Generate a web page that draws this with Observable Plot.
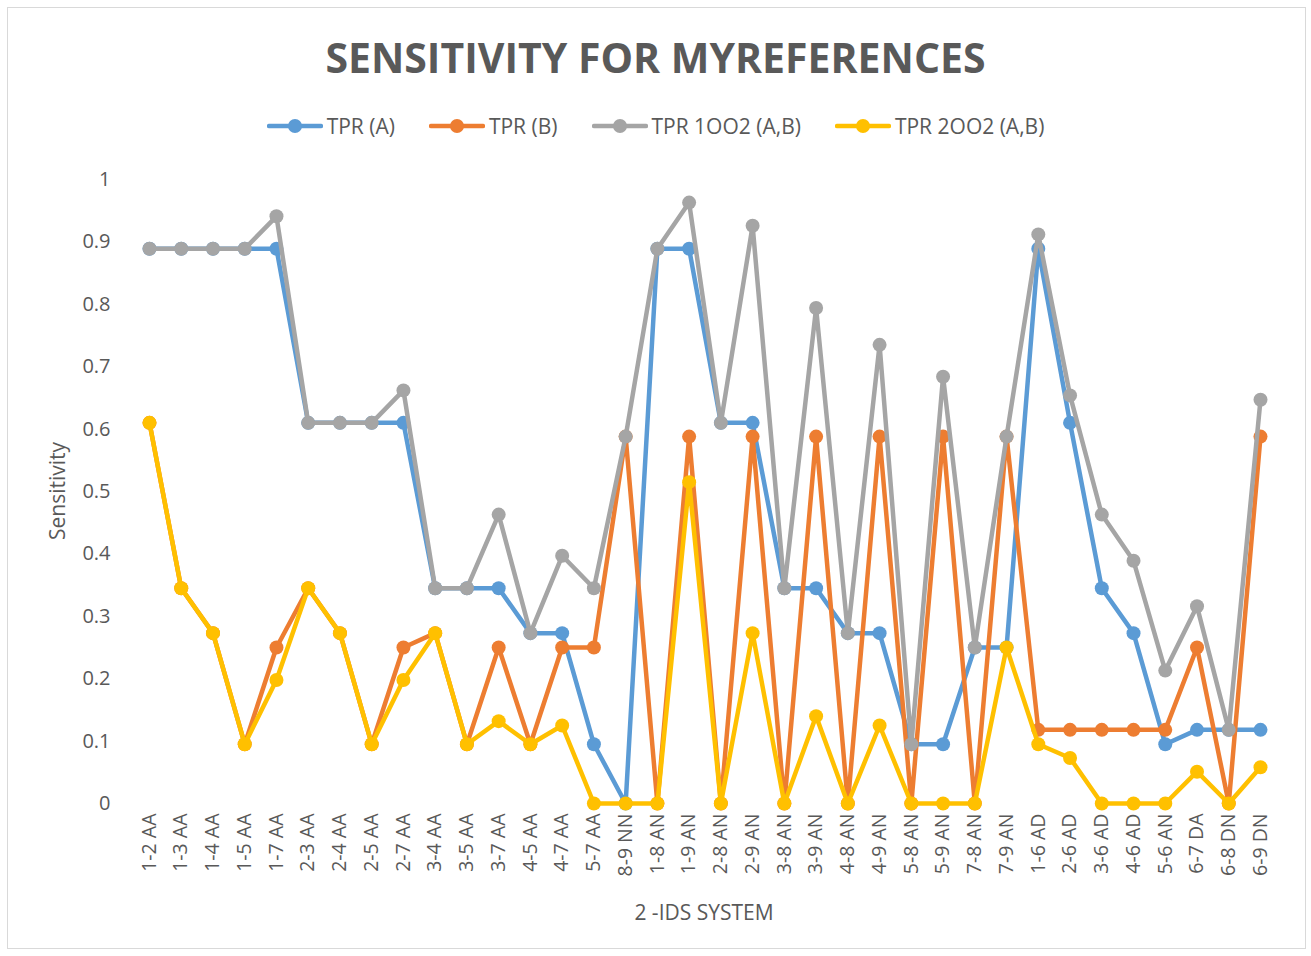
<!DOCTYPE html>
<html>
<head>
<meta charset="utf-8">
<script src="https://cdn.jsdelivr.net/npm/d3@7"></script>
<script src="https://cdn.jsdelivr.net/npm/@observablehq/plot@0.6"></script>
<style>
  html, body { margin: 0; padding: 0; background: #fff; }
  #page { position: relative; width: 1311px; height: 956px; overflow: hidden; font-family: "Open Sans", sans-serif; color: #595959; }
  #frame { position: absolute; left: 7px; top: 7px; width: 1299px; height: 942px; border: 1.5px solid #d9d9d9; box-sizing: border-box; }
  #title { position: absolute; left: 0; width: 1311px; top: 30px; text-align: center; font-size: 41px; font-weight: 700; line-height: 54px; }
  #legend { position: absolute; left: 0; width: 1311px; top: 111px; display: flex; justify-content: center; gap: 34px; font-size: 21px; line-height: 30px; }
  .item { display: flex; align-items: center; gap: 4px; }
  .axis-title { position: absolute; font-size: 21px; line-height: 28px; white-space: nowrap; }
  #ytitle { left: 57px; top: 491px; transform: translate(-50%, -50%) rotate(-90deg); }
  #xtitle { left: 704px; top: 912px; transform: translate(-50%, -50%); }
  #chart { position: absolute; left: 0; top: 150px; }
</style>
</head>
<body>
<div id="page">
  <div id="frame"></div>
  <div id="title">SENSITIVITY FOR MYREFERENCES</div>
  <div id="legend"></div>
  <div id="chart"></div>
  <div class="axis-title" id="ytitle">Sensitivity</div>
  <div class="axis-title" id="xtitle">2 -IDS SYSTEM</div>
</div>
<script>
const categories = ["1-2 AA","1-3 AA","1-4 AA","1-5 AA","1-7 AA","2-3 AA","2-4 AA","2-5 AA","2-7 AA","3-4 AA","3-5 AA","3-7 AA","4-5 AA","4-7 AA","5-7 AA","8-9 NN","1-8 AN","1-9 AN","2-8 AN","2-9 AN","3-8 AN","3-9 AN","4-8 AN","4-9 AN","5-8 AN","5-9 AN","7-8 AN","7-9 AN","1-6 AD","2-6 AD","3-6 AD","4-6 AD","5-6 AN","6-7 DA","6-8 DN","6-9 DN"];

const tprA = [0.889,0.889,0.889,0.889,0.889,0.61,0.61,0.61,0.61,0.345,0.345,0.345,0.273,0.273,0.095,0,0.889,0.889,0.61,0.61,0.345,0.345,0.273,0.273,0.095,0.095,0.25,0.25,0.889,0.61,0.345,0.273,0.095,0.118,0.118,0.118];
const tprB = [0.61,0.345,0.273,0.095,0.25,0.345,0.273,0.095,0.25,0.273,0.095,0.25,0.095,0.25,0.25,0.588,0,0.588,0,0.588,0,0.588,0,0.588,0,0.588,0,0.588,0.118,0.118,0.118,0.118,0.118,0.25,0,0.588];
const tpr1oo2 = [0.889,0.889,0.889,0.889,0.941,0.61,0.61,0.61,0.662,0.345,0.345,0.463,0.273,0.397,0.345,0.588,0.889,0.963,0.61,0.926,0.345,0.794,0.273,0.735,0.095,0.684,0.25,0.588,0.912,0.654,0.463,0.389,0.213,0.316,0.118,0.647];
const tpr2oo2 = [0.61,0.345,0.273,0.095,0.198,0.345,0.273,0.095,0.198,0.273,0.095,0.132,0.095,0.125,0,0,0,0.515,0,0.273,0,0.14,0,0.125,0,0,0,0.25,0.095,0.073,0,0,0,0.051,0,0.058];

const seriesNames = ["TPR (A)","TPR (B)","TPR 1OO2 (A,B)","TPR 2OO2 (A,B)"];
const seriesColors = ["#5B9BD5","#ED7D31","#A5A5A5","#FFC000"];
const seriesValues = [tprA, tprB, tpr1oo2, tpr2oo2];
const yTicks = [0,0.1,0.2,0.3,0.4,0.5,0.6,0.7,0.8,0.9,1];

const data = seriesValues.flatMap((vals, s) =>
  vals.map((v, i) => ({series: seriesNames[s], cat: categories[i], value: v})));

// legend
const legend = document.getElementById("legend");
seriesNames.forEach((name, i) => {
  const item = document.createElement("div");
  item.className = "item";
  item.innerHTML = `<svg width="56" height="16"><line x1="2" x2="54" y1="8" y2="8" stroke="${seriesColors[i]}" stroke-width="4.5" stroke-linecap="round"/><circle cx="28" cy="8" r="7" fill="${seriesColors[i]}"/></svg><span>${name}</span>`;
  legend.appendChild(item);
});

const marks = [];
seriesNames.forEach((name, s) => {
  const d = data.filter(r => r.series === name);
  marks.push(Plot.line(d, {x: "cat", y: "value", stroke: seriesColors[s], strokeWidth: 4.5, strokeLinejoin: "round"}));
  marks.push(Plot.dot(d, {x: "cat", y: "value", fill: seriesColors[s], r: 7}));
});

const chart = Plot.plot({
  width: 1311,
  height: 790,
  marginTop: 29,
  marginBottom: 137,
  marginLeft: 133,
  marginRight: 35,
  style: {fontFamily: "Open Sans, sans-serif", color: "#595959", background: "transparent"},
  x: {type: "point", domain: categories, padding: 0, round: false, insetLeft: 16, insetRight: 16, label: null},
  y: {domain: [0, 1], ticks: yTicks, label: null},
  marks: [
    Plot.gridY(yTicks, {stroke: "#d9d9d9", strokeOpacity: 1, strokeWidth: 1.5, x1: 133, x2: 1276}),
    Plot.axisY(yTicks, {tickSize: 0, tickPadding: 23, fontSize: 20, tickFormat: d => String(d), label: null, fill: "#595959"}),
    Plot.axisX({tickSize: 0, tickPadding: 10, tickRotate: -90, fontSize: 19.5, label: null, fill: "#595959"}),
    ...marks
  ]
});
document.getElementById("chart").appendChild(chart);
</script>
</body>
</html>
